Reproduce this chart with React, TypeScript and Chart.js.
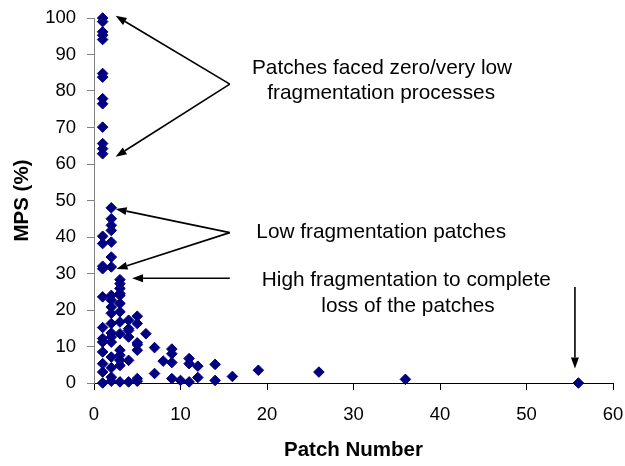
import React, { useEffect, useRef } from "react";
import { Chart, registerables } from "chart.js";

Chart.register(...registerables);

// Patch number (x) and MPS % (y)
const patchNumber: number[] = [
  1, 1, 1, 1, 1, 1, 1, 1, 1, 1, 1, 1, 1,
  1, 1, 1, 1, 1, 1, 1, 1, 1, 1, 1, 1,
  2, 2, 2, 2, 2, 2, 2, 2, 2, 2, 2, 2, 2, 2, 2, 2, 2, 2, 2,
  3, 3, 3, 3, 3, 3, 3, 3, 3, 3, 3, 3, 3, 3,
  4, 4, 4, 4, 4, 4,
  5, 5, 5, 5, 5, 5, 5,
  6, 7, 7, 8, 9, 9, 9, 9, 10, 11, 11, 11, 12, 12, 14, 14, 16, 19, 26, 36, 56,
];
const mpsPercent: number[] = [
  100, 99, 96.2, 95.3, 94.1, 84.8, 83.8, 77.9, 76.5, 70.1, 65.6, 64.2, 62.8,
  40.2, 38.2, 32, 31.3, 23.6, 15.2, 12.2, 11.2, 8.5, 5.3, 3, 0,
  48, 45, 43.2, 41.8, 38.6, 34.5, 31.8, 24, 22.7, 20.8, 19.1, 16.3, 13.7, 12.6, 11.2, 7.1, 4.2, 1.6, 0.5,
  28.3, 27.2, 25.9, 24.5, 24, 21.8, 19.5, 16.7, 13.5, 9, 7.6, 6.2, 0.3, 4.8,
  17.2, 14.9, 12.6, 6.2, 0.3, 14.4,
  18.3, 16.3, 11, 9, 1.2, 0.5, 10.5,
  13.5, 9.7, 2.6, 6, 9.3, 8, 5.6, 1.2, 0.7, 6.7, 5.3, 0.3, 4.6, 1.5, 5.1, 0.7, 1.8, 3.5, 3, 1, 0,
];

const xTicks: number[] = [0, 10, 20, 30, 40, 50, 60];
const yTicks: number[] = [0, 10, 20, 30, 40, 50, 60, 70, 80, 90, 100];

// Annotations (anchored in data coordinates)
const annotationTexts: { text: string; x: number; y: number }[] = [
  { text: "Patches faced zero/very low", x: 33.3, y: 86.3 },
  { text: "fragmentation processes", x: 33.2, y: 79.5 },
  { text: "Low fragmentation patches", x: 33.2, y: 41.2 },
  { text: "High fragmentation to complete", x: 36.1, y: 28.2 },
  { text: "loss of the patches", x: 36.3, y: 20.9 },
];
const annotationArrows: { from: [number, number]; to: [number, number] }[] = [
  { from: [15.7, 81.9], to: [2.5, 100.6] },
  { from: [15.7, 81.9], to: [2.5, 62.0] },
  { from: [15.7, 41.2], to: [2.5, 47.7] },
  { from: [15.7, 41.2], to: [2.6, 31.2] },
  { from: [15.7, 28.7], to: [4.4, 28.7] },
  { from: [55.6, 26.3], to: [55.6, 4.0] },
];

const FONT = "'Liberation Sans', Arial, sans-serif";

const annotationPlugin = {
  id: "annotations",
  afterDraw(chart: any) {
    const { ctx, scales } = chart;
    const xs = scales.x;
    const ys = scales.y;
    ctx.save();
    ctx.fillStyle = "#000";
    ctx.font = `20.8px ${FONT}`;
    ctx.textAlign = "center";
    ctx.textBaseline = "middle";
    for (const t of annotationTexts) {
      ctx.fillText(t.text, xs.getPixelForValue(t.x), ys.getPixelForValue(t.y));
    }
    ctx.strokeStyle = "#000";
    ctx.lineWidth = 1.6;
    for (const a of annotationArrows) {
      const x1 = xs.getPixelForValue(a.from[0]);
      const y1 = ys.getPixelForValue(a.from[1]);
      const x2 = xs.getPixelForValue(a.to[0]);
      const y2 = ys.getPixelForValue(a.to[1]);
      const ang = Math.atan2(y2 - y1, x2 - x1);
      const len = 11;
      const half = 4;
      const bx = x2 - len * Math.cos(ang);
      const by = y2 - len * Math.sin(ang);
      ctx.beginPath();
      ctx.moveTo(x1, y1);
      ctx.lineTo(bx, by);
      ctx.stroke();
      ctx.beginPath();
      ctx.moveTo(x2, y2);
      ctx.lineTo(bx + half * Math.sin(ang), by - half * Math.cos(ang));
      ctx.lineTo(bx - half * Math.sin(ang), by + half * Math.cos(ang));
      ctx.closePath();
      ctx.fill();
    }
    ctx.restore();
  },
};

export default function App() {
  const canvasRef = useRef<HTMLCanvasElement | null>(null);

  useEffect(() => {
    if (!canvasRef.current) return;
    const points = patchNumber.map((x, i) => ({ x, y: mpsPercent[i] }));
    const chart = new Chart(canvasRef.current, {
      type: "scatter",
      data: {
        datasets: [
          {
            label: "MPS",
            data: points,
            pointStyle: "rectRot",
            pointRadius: 5.3,
            pointBackgroundColor: "#000080",
            pointBorderColor: "#000080",
            pointBorderWidth: 1,
            clip: false as any,
          },
        ],
      },
      options: {
        animation: false,
        responsive: false,
        devicePixelRatio: 1,
        layout: { padding: { top: 18, right: 12, left: 0, bottom: 0 } },
        plugins: { legend: { display: false }, tooltip: { enabled: false } },
        scales: {
          x: {
            type: "linear",
            min: 0,
            max: 60,
            afterBuildTicks: (s: any) => {
              s.ticks = xTicks.map((v) => ({ value: v }));
            },
            afterFit: (s: any) => {
              s.height = 83;
              s.paddingLeft = 0;
              s.paddingRight = 0;
            },
            ticks: {
              color: "#000",
              font: { family: FONT, size: 18.5 },
              padding: 14,
              maxRotation: 0,
            },
            grid: {
              drawOnChartArea: false,
              drawTicks: true,
              tickLength: 7,
              color: "#000",
            },
            border: { color: "#000", width: 1 },
            title: {
              display: true,
              text: "Patch Number",
              color: "#000",
              font: { family: FONT, size: 20.5, weight: "bold" },
              padding: { top: 0, bottom: 3 },
            },
          },
          y: {
            type: "linear",
            min: 0,
            max: 100,
            afterBuildTicks: (s: any) => {
              s.ticks = yTicks.map((v) => ({ value: v }));
            },
            afterFit: (s: any) => {
              s.width = 94;
              s.paddingTop = 0;
              s.paddingBottom = 0;
            },
            ticks: {
              color: "#000",
              font: { family: FONT, size: 18.5 },
              padding: 11,
            },
            grid: {
              drawOnChartArea: false,
              drawTicks: true,
              tickLength: 7,
              color: "#808080",
            },
            border: { color: "#808080", width: 1 },
            title: {
              display: true,
              text: "MPS (%)",
              color: "#000",
              font: { family: FONT, size: 20.5, weight: "bold" },
              padding: { top: 10, bottom: 0 },
            },
          },
        },
      },
      plugins: [annotationPlugin],
    });
    return () => chart.destroy();
  }, []);

  return (
    <div
      style={{
        position: "fixed",
        left: 0,
        top: 0,
        width: 625,
        height: 466,
        background: "#fff",
      }}
    >
      <canvas ref={canvasRef} width={625} height={466} />
    </div>
  );
}
